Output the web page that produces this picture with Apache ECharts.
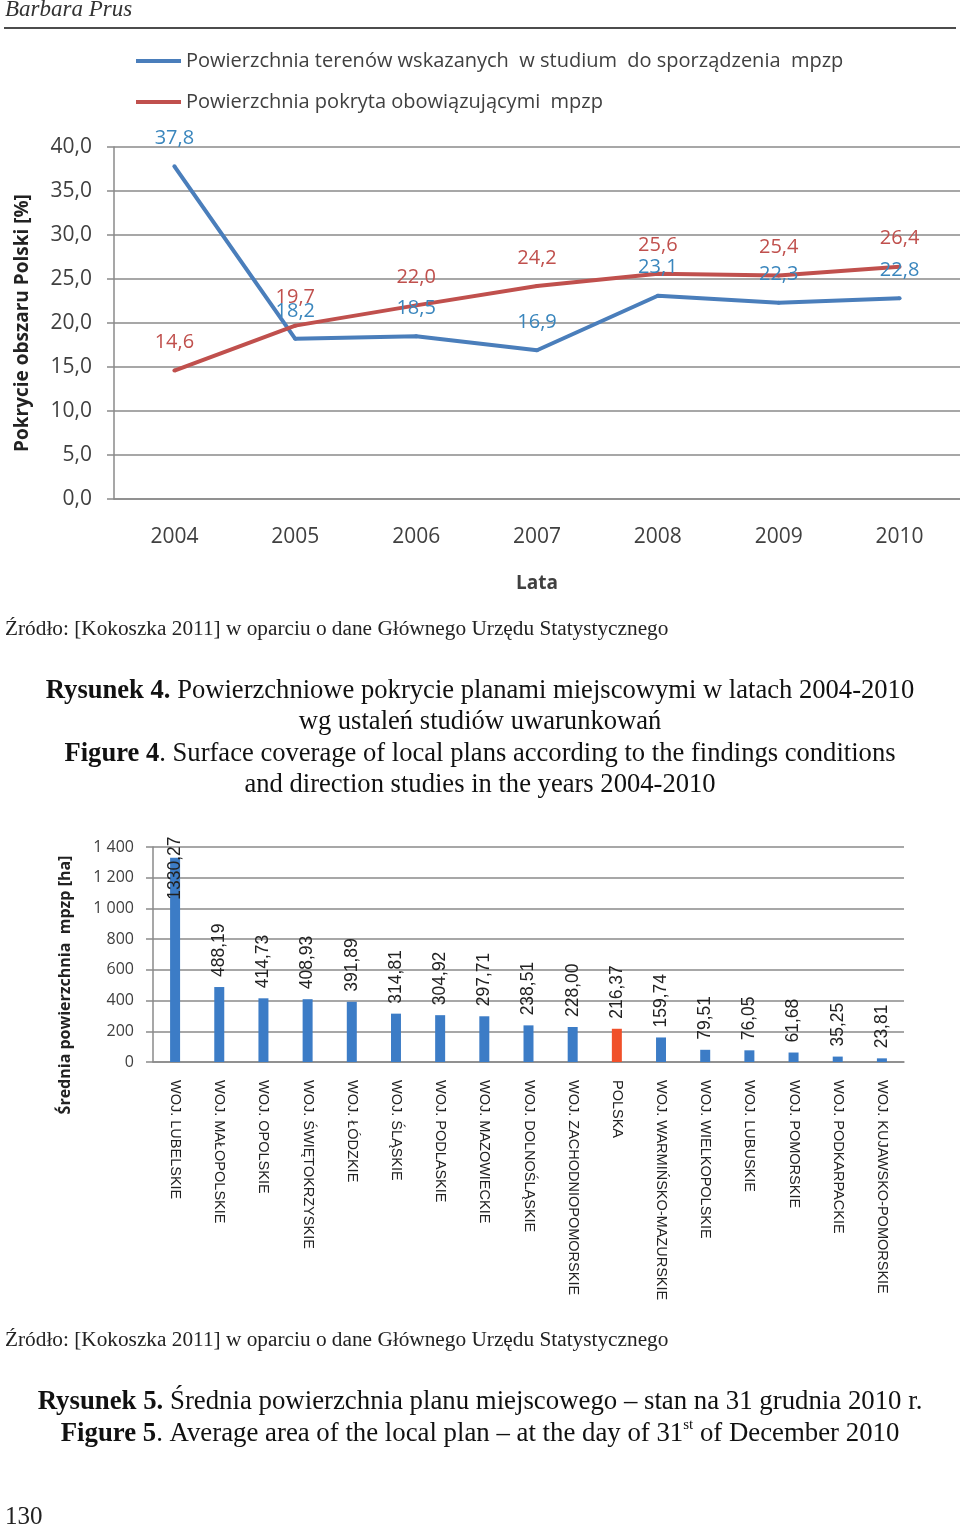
<!DOCTYPE html>
<html>
<head>
<meta charset="utf-8">
<script src="https://cdn.jsdelivr.net/npm/echarts@6/dist/echarts.min.js"></script>
<style>
  html, body { margin: 0; padding: 0; background: #fff; }
  #page { width: 960px; height: 1527px; }
</style>
</head>
<body>
<div id="page"></div>
<script>
// figure 4: coverage by local plans, 2004-2010 [%]
var years = ['2004', '2005', '2006', '2007', '2008', '2009', '2010'];
var studyArea = [37.8, 18.2, 18.5, 16.9, 23.1, 22.3, 22.8];
var coveredArea = [14.6, 19.7, 22.0, 24.2, 25.6, 25.4, 26.4];
var lineNames = [
  'Powierzchnia terenów wskazanych  w studium  do sporządzenia  mpzp',
  'Powierzchnia pokryta obowiązującymi  mpzp'
];

// figure 5: average plan area per voivodeship [ha]
var regions = [
  'WOJ. LUBELSKIE', 'WOJ. MAŁOPOLSKIE', 'WOJ. OPOLSKIE', 'WOJ. ŚWIĘTOKRZYSKIE',
  'WOJ. ŁÓDZKIE', 'WOJ. ŚLĄSKIE', 'WOJ. PODLASKIE', 'WOJ. MAZOWIECKIE',
  'WOJ. DOLNOŚLĄSKIE', 'WOJ. ZACHODNIOPOMORSKIE', 'POLSKA', 'WOJ. WARMIŃSKO-MAZURSKIE',
  'WOJ. WIELKOPOLSKIE', 'WOJ. LUBUSKIE', 'WOJ. POMORSKIE', 'WOJ. PODKARPACKIE',
  'WOJ. KUJAWSKO-POMORSKIE'
];
var avgArea = [1330.27, 488.19, 414.73, 408.93, 391.89, 314.81, 304.92, 297.71,
  238.51, 228.00, 216.37, 159.74, 79.51, 76.05, 61.68, 35.25, 23.81];

var sans = '"Open Sans", sans-serif';
var arial = '"Liberation Sans", Arial, sans-serif';
var serif = '"Liberation Serif", "Times New Roman", serif';
var gridGrey = '#8a8a8a';
var blue = '#4a7ebb', red = '#c0504d';
var barBlue = '#3c7cc6', barRed = '#f0502a';

function comma(v, d) { return Number(v).toFixed(d).replace('.', ','); }
function spaced(v) { return String(v).replace(/\B(?=(\d{3})+(?!\d))/g, ' '); }

var barData = avgArea.map(function (v, i) {
  var item = { value: v, itemStyle: { color: regions[i] === 'POLSKA' ? barRed : barBlue } };
  if (i === 0) item.label = { distance: -42 };
  return item;
});

function lineSeries(name, data, color, labelColor) {
  return {
    name: name, type: 'line', xAxisIndex: 0, yAxisIndex: 0,
    data: data, symbol: 'circle', symbolSize: 4, showSymbol: true, color: color,
    itemStyle: { color: color },
    lineStyle: { width: 4, color: color },
    label: { show: true, position: 'top', distance: 16, fontSize: 20, color: labelColor, fontFamily: sans,
      formatter: function (p) { return comma(p.value, 1); } }
  };
}

var chart = echarts.init(document.getElementById('page'), null, { renderer: 'canvas' });
chart.setOption({
  animation: false,
  backgroundColor: '#fff',
  textStyle: { fontFamily: sans },
  legend: {
    data: lineNames,
    orient: 'vertical',
    left: 131, top: 46,
    icon: 'rect', itemWidth: 45, itemHeight: 4, itemGap: 21,
    textStyle: { fontFamily: sans, fontSize: 20, color: '#404040' }
  },
  grid: [
    { left: 114, right: 0, top: 147, height: 352 },
    { left: 153, right: 56, top: 847, height: 215 }
  ],
  xAxis: [{
    gridIndex: 0, type: 'category', data: years,
    axisLine: { lineStyle: { color: gridGrey, width: 1.5 } },
    axisTick: { show: false },
    axisLabel: { margin: 28, fontSize: 21, color: '#404040', fontFamily: sans },
    name: 'Lata', nameLocation: 'middle', nameGap: 75,
    nameTextStyle: { fontSize: 19, fontWeight: 'bold', color: '#404040', fontFamily: sans }
  }, {
    gridIndex: 1, type: 'category', data: regions,
    axisLine: { lineStyle: { color: gridGrey, width: 1.5 } },
    axisTick: { show: false },
    axisLabel: { rotate: -90, margin: 18, fontSize: 14.5, color: '#222', fontFamily: arial, interval: 0 }
  }],
  yAxis: [{
    gridIndex: 0, type: 'value', min: 0, max: 40, interval: 5,
    axisLine: { show: true, lineStyle: { color: gridGrey, width: 1.5 } },
    axisTick: { show: true, length: 7, lineStyle: { color: gridGrey, width: 1.5 } },
    splitLine: { lineStyle: { color: gridGrey, width: 1.5 } },
    axisLabel: { margin: 22, fontSize: 21, color: '#404040', fontFamily: sans, formatter: function (v) { return comma(v, 1); } },
    name: 'Pokrycie obszaru Polski [%]', nameLocation: 'middle', nameGap: 82,
    nameTextStyle: { fontSize: 19, fontWeight: 'bold', color: '#222', fontFamily: sans }
  }, {
    gridIndex: 1, type: 'value', min: 0, max: 1400, interval: 200,
    axisLine: { show: true, lineStyle: { color: gridGrey, width: 1.5 } },
    axisTick: { show: true, length: 7, lineStyle: { color: gridGrey, width: 1.5 } },
    splitLine: { lineStyle: { color: gridGrey, width: 1.5 } },
    axisLabel: { margin: 19, fontSize: 16, color: '#404040', fontFamily: sans, formatter: spaced }
  }],
  series: [
    lineSeries(lineNames[0], studyArea, blue, '#3a86bd'),
    lineSeries(lineNames[1], coveredArea, red, red),
    {
      name: 'avg', type: 'bar', xAxisIndex: 1, yAxisIndex: 1,
      data: barData, barWidth: 10,
      label: { show: true, position: 'top', rotate: 90, align: 'left', verticalAlign: 'middle', distance: 10,
        fontSize: 17.5, color: '#222', fontFamily: arial,
        formatter: function (p) { return comma(p.value, 2); } }
    }
  ],
  graphic: [
    { type: 'text', left: 5, top: -2, style: { text: 'Barbara Prus', font: 'italic 23px ' + serif, fill: '#333' } },
    { type: 'line', shape: { x1: 4, y1: 28, x2: 956, y2: 28 }, style: { stroke: '#111', lineWidth: 1.5 } },
    { type: 'text', x: 65, y: 985, rotation: Math.PI / 2,
      style: { text: 'Średnia powierzchnia  mpzp [ha]', font: 'bold 16px ' + sans, fill: '#222', align: 'center', verticalAlign: 'middle' } },
    { type: 'text', left: 5, top: 619, style: { text: 'Źródło: [Kokoszka 2011] w oparciu o dane Głównego Urzędu Statystycznego', font: '21.3px ' + serif, fill: '#222' } },
    { type: 'text', x: 480, y: 675, style: {
      text: '{b|Rysunek 4.} Powierzchniowe pokrycie planami miejscowymi w latach 2004-2010\nwg ustaleń studiów uwarunkowań\n{b|Figure 4}. Surface coverage of local plans according to the findings conditions\nand direction studies in the years 2004-2010',
      font: '26.6px ' + serif, fill: '#111', align: 'center', lineHeight: 31.5,
      rich: { b: { fontWeight: 'bold', fontFamily: serif, fontSize: 26.6 } } } },
    { type: 'text', left: 5, top: 1330, style: { text: 'Źródło: [Kokoszka 2011] w oparciu o dane Głównego Urzędu Statystycznego', font: '21.3px ' + serif, fill: '#222' } },
    { type: 'text', x: 480, y: 1386, style: {
      text: '{b|Rysunek 5.} Średnia powierzchnia planu miejscowego – stan na 31 grudnia 2010 r.\n{b|Figure 5}. Average area of the local plan – at the day of 31{s|st} of December 2010',
      font: '26.8px ' + serif, fill: '#111', align: 'center', lineHeight: 32,
      rich: { b: { fontWeight: 'bold', fontFamily: serif, fontSize: 26.8 }, s: { fontSize: 15, fontFamily: serif, verticalAlign: 'top', lineHeight: 18 } } } },
    { type: 'text', left: 5, top: 1505, style: { text: '130', font: '25px ' + serif, fill: '#222' } }
  ]
});
</script>
</body>
</html>
